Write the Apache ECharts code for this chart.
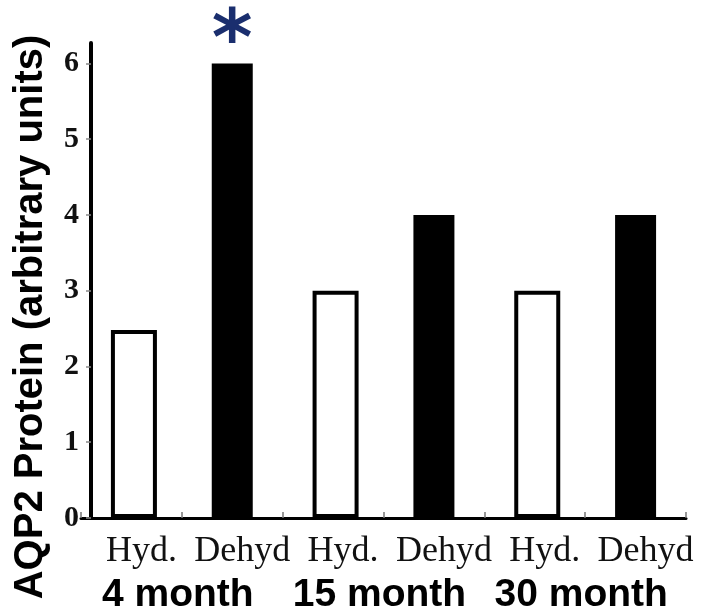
<!DOCTYPE html>
<html><head><meta charset="utf-8">
<script src="https://cdn.jsdelivr.net/npm/echarts@6/dist/echarts.min.js"></script>
<style>html,body{margin:0;padding:0;background:#fff}#c{width:702px;height:615px}</style>
</head><body><div id="c"></div>
<script>
const conditions = ['Hyd.', 'Dehyd', 'Hyd.', 'Dehyd', 'Hyd.', 'Dehyd'];
const ages = ['4 month', '15 month', '30 month'];
const aqp2 = [2.48, 6, 3, 4, 3, 4];
const significance = ['', '*', '', '', '', ''];
const yTicks = [0, 1, 2, 3, 4, 5, 6];
const yTitle = 'AQP2 Protein (arbitrary units)';

const isHyd = c => c === 'Hyd.';
const sigLabel = i => significance[i] ? {
  show: true, position: 'top', formatter: significance[i], distance: -20,
  fontFamily: 'DejaVu Sans', fontWeight: 'bold', fontSize: 78, color: '#1a2e6e'
} : { show: false };

const chart = echarts.init(document.getElementById('c'));
chart.setOption({
  animation: false,
  backgroundColor: '#fff',
  grid: { left: 81, right: 16, top: 43, bottom: 97 },
  xAxis: [{
    type: 'category', data: conditions, position: 'bottom',
    axisLine: { lineStyle: { color: '#000', width: 3 } },
    axisTick: { show: true, inside: true, length: 6, lineStyle: { color: '#777', width: 1.5 } },
    axisLabel: { interval: 0, fontFamily: 'Liberation Serif', fontSize: 36, color: '#111', margin: 16, padding: [0, 0, 0, 20] }
  }, {
    type: 'category', data: ages, position: 'bottom',
    axisLine: { show: false }, axisTick: { show: false },
    axisLabel: { interval: 0, fontFamily: 'Liberation Sans', fontWeight: 'bold', fontSize: 39, color: '#000', margin: 58, padding: [0, 8, 0, 0] }
  }],
  yAxis: {
    type: 'value', min: 0, max: 6.27, interval: 1, offset: -10,
    splitLine: { show: false },
    axisLine: { show: true, lineStyle: { color: '#000', width: 4 } },
    axisTick: { show: true, length: 5, customValues: yTicks, lineStyle: { color: '#888', width: 1.5 } },
    axisLabel: { customValues: yTicks, fontFamily: 'Liberation Serif', fontWeight: 'bold', fontSize: 30, color: '#111', margin: 12, padding: [12, 0, 0, 0] }
  },
  graphic: [{
    type: 'text', x: 31, y: 317, rotation: Math.PI / 2,
    style: { text: yTitle, font: 'bold 40px "Liberation Sans"', fill: '#000', align: 'center', verticalAlign: 'middle' }
  }],
  series: [{
    name: 'Hyd', type: 'bar', xAxisIndex: 0, barWidth: 46, barGap: '-100%',
    itemStyle: { color: '#fff', borderColor: '#000', borderWidth: 4 },
    data: aqp2.map((v, i) => isHyd(conditions[i]) ? { value: v, label: sigLabel(i) } : '-')
  }, {
    name: 'Dehyd', type: 'bar', xAxisIndex: 0, barWidth: 41, barGap: '-100%',
    itemStyle: { color: '#000', borderWidth: 0 },
    data: aqp2.map((v, i) => !isHyd(conditions[i]) ? { value: v, label: sigLabel(i) } : '-')
  }]
});
</script></body></html>
